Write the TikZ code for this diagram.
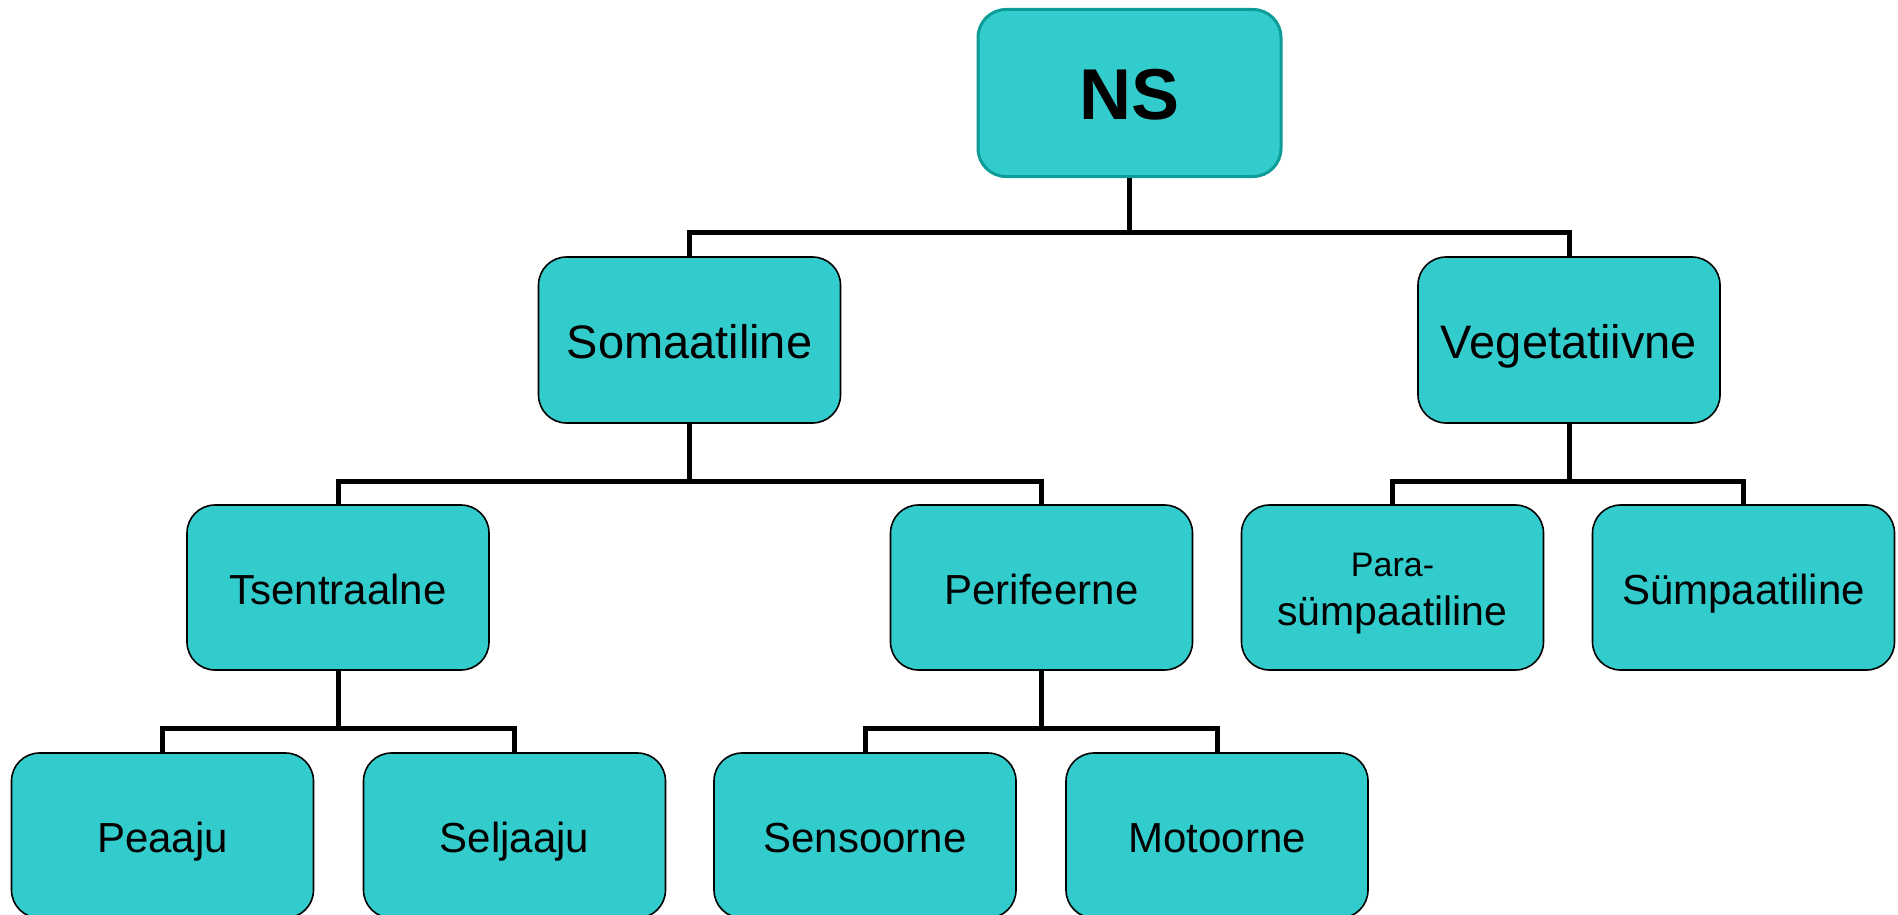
\documentclass[tikz,border=0pt]{standalone}
\usepackage{fontspec}
\setmainfont{Liberation Sans}
\definecolor{boxfill}{HTML}{33CCCC}
\definecolor{nsborder}{HTML}{0E9C98}
\tikzset{
  box/.style={draw=black, line width=1.6pt, fill=boxfill, rounded corners=28pt,
    minimum width=302pt, minimum height=165pt, inner sep=0pt, align=center,
    text height=33pt, text depth=0pt,
    font=\fontsize{42}{46}\selectfont},
  topbox/.style={box, draw=nsborder, line width=3pt, minimum width=303pt, minimum height=167pt,
    text height=54pt, font=\fontsize{72}{78}\selectfont\bfseries},
  midbox/.style={box, minimum height=166pt, text height=37pt, font=\fontsize{47}{52}\selectfont},
  conn/.style={draw=black, line width=5pt}
}
\begin{document}
\begin{tikzpicture}[x=1pt,y=-1pt]
\useasboundingbox (0,0) rectangle (1898,915);
% bus levels
\coordinate (bus1) at (0,232);
\coordinate (bus2) at (0,481);
\coordinate (bus3) at (0,728);
% nodes
\node[topbox] (ns) at (1129.5,93) {NS};
\node[midbox] (soma) at (689.5,340) {Somaatiline};
\node[midbox] (veg) at (1569,340) {Vegetatiivne};
\node[box] (tsen) at (338,587.5) {Tsentraalne};
\node[box] (peri) at (1041.5,587.5) {Perifeerne};
\node[box, text height=33pt] (para) at (1392.5,587.5) {\raisebox{-21pt}{\fontsize{41}{49}\selectfont\begin{tabular}[b]{@{}c@{}}{\fontsize{34}{40}\selectfont Para-}\\ s\"umpaatiline\end{tabular}}};
\node[box] (sump) at (1743.5,587.5) {S\"umpaatiline};
\node[box] (peaa) at (162.5,835.5) {Peaaju};
\node[box] (selj) at (514.5,835.5) {Seljaaju};
\node[box] (sens) at (865,835.5) {Sensoorne};
\node[box] (moto) at (1217,835.5) {Motoorne};
% connectors
\draw[conn] (ns.south) -- (ns.south |- bus1) -| (soma.north);
\draw[conn] (ns.south) -- (ns.south |- bus1) -| (veg.north);
\draw[conn] (soma.south) -- (soma.south |- bus2) -| (tsen.north);
\draw[conn] (soma.south) -- (soma.south |- bus2) -| (peri.north);
\draw[conn] (veg.south) -- (veg.south |- bus2) -| (para.north);
\draw[conn] (veg.south) -- (veg.south |- bus2) -| (sump.north);
\draw[conn] (tsen.south) -- (tsen.south |- bus3) -| (peaa.north);
\draw[conn] (tsen.south) -- (tsen.south |- bus3) -| (selj.north);
\draw[conn] (peri.south) -- (peri.south |- bus3) -| (sens.north);
\draw[conn] (peri.south) -- (peri.south |- bus3) -| (moto.north);
\end{tikzpicture}
\end{document}
